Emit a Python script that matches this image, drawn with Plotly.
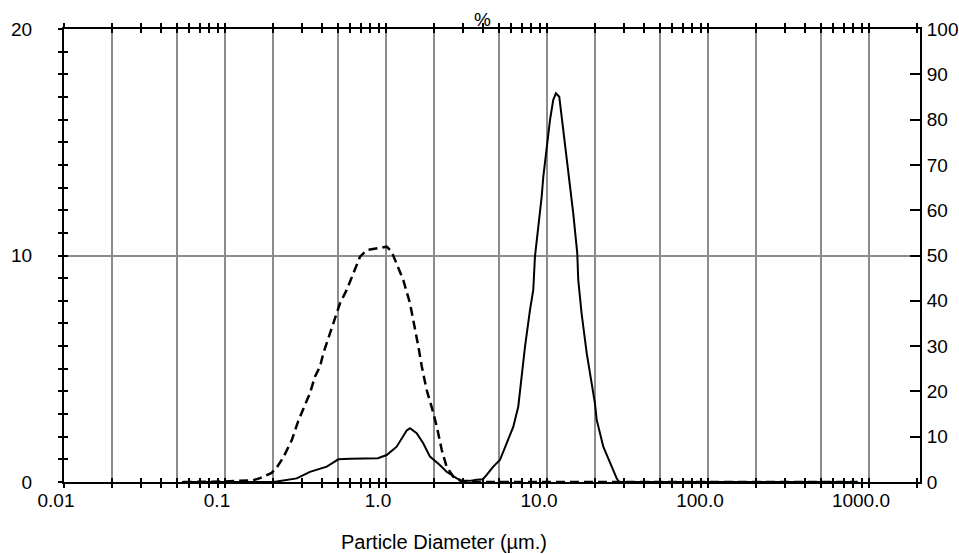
import plotly.graph_objects as go

# ---- data ----
solid_x = [0.054, 0.1, 0.2, 0.279, 0.337, 0.429, 0.506, 0.6, 0.75, 0.891, 1.01, 1.165, 1.345, 1.41,
           1.55, 1.70, 1.876, 2.16, 2.38, 2.75, 3.0, 3.3, 3.66, 4.0, 4.22, 4.64, 5.1, 5.62, 6.18, 6.63,
           6.97, 7.30, 7.84, 8.22, 8.42, 8.83, 9.27, 9.49, 9.96, 10.44, 10.94, 11.37, 11.92, 12.62,
           13.56, 14.56, 15.42, 15.64, 16.4, 17.66, 19.86, 20.37, 22.38, 24.62, 26.44, 27.1, 28.0,
           50.0, 100.0, 500.0, 850.0]
solid_y = [0, 0, 0, 0.16, 0.45, 0.68, 1.0, 1.03, 1.03, 1.05, 1.19, 1.56, 2.28, 2.37,
           2.15, 1.72, 1.12, 0.75, 0.45, 0.16, 0.05, 0.05, 0.1, 0.12, 0.31, 0.68, 0.97, 1.71, 2.44, 3.32,
           4.80, 5.97, 7.59, 8.48, 9.95, 11.13, 12.6, 13.48, 14.8, 15.98, 16.87, 17.16, 17.01, 15.54,
           13.92, 11.86, 10.1, 8.92, 7.45, 5.68, 3.47, 2.74, 1.56, 0.83, 0.31, 0.16, 0,
           0, 0, 0, 0]

dash_x = [0.055, 0.1, 0.15, 0.165, 0.195, 0.21, 0.23, 0.26, 0.285, 0.314, 0.337, 0.362, 0.389, 0.408,
          0.449, 0.482, 0.518, 0.570, 0.627, 0.690, 0.759, 0.875, 1.01, 1.084, 1.165, 1.28, 1.41,
          1.48, 1.59, 1.67, 1.79, 1.92, 2.07, 2.22, 2.38, 2.62, 3.0, 5.0, 10.0, 50.0, 100.0, 500.0, 850.0]
dash_y = [0, 0.02, 0.08, 0.17, 0.4, 0.65, 1.08, 1.85, 2.69, 3.4, 3.92, 4.65, 5.09, 5.68,
          6.56, 7.15, 7.89, 8.48, 9.21, 9.95, 10.24, 10.32, 10.39, 10.17, 9.65, 8.92, 7.89,
          7.15, 5.97, 5.09, 4.06, 3.32, 2.44, 1.41, 0.68, 0.23, 0, 0, 0, 0, 0, 0, 0]

x_decades = [0.01, 0.1, 1, 10, 100, 1000]
x_decade_labels = ["0.01", "0.1", "1.0", "10.0", "100.0", "1000.0"]
x_grid = [0.02, 0.05, 0.1, 0.2, 0.5, 1, 2, 5, 10, 20, 50, 100, 200, 500, 1000]
y_left_labels = {0: "0", 10: "10", 20: "20"}
y_right_ticks = [0, 10, 20, 30, 40, 50, 60, 70, 80, 90, 100]

# ---- derived tick arrays ----
X_MAX = 2075
x_minor = [m * d for d in x_decades for m in range(1, 10) if m * d <= X_MAX]
x_text = [x_decade_labels[x_decades.index(v)] if v in x_decades else "" for v in x_minor]
y_left_vals = list(range(0, 21))
y_left_text = [y_left_labels.get(v, "") for v in y_left_vals]

FONT = "Liberation Sans, Arial, sans-serif"
FS = 19
xr = [-2, 3.317]

fig = go.Figure()
# empty helper traces so that every overlaying axis is drawn
for xa, ya in [("x2", "y"), ("x3", "y"), ("x", "y3"), ("x", "y4"), ("x", "y2")]:
    fig.add_trace(go.Scatter(x=[], y=[], xaxis=xa, yaxis=ya, mode="lines",
                             showlegend=False, hoverinfo="skip"))
fig.add_trace(go.Scatter(x=solid_x, y=solid_y, mode="lines",
                         line=dict(color="black", width=2), showlegend=False))
fig.add_trace(go.Scatter(x=dash_x, y=dash_y, mode="lines",
                         line=dict(color="black", width=2.5, dash="9px,5px"), showlegend=False))

common_x = dict(type="log", range=xr, zeroline=False, automargin=False)
common_y = dict(range=[0, 20], zeroline=False, automargin=False)

fig.update_layout(
    width=959, height=554,
    margin=dict(l=64, r=39, t=29, b=72),
    plot_bgcolor="white", paper_bgcolor="white",
    font=dict(family=FONT, size=FS, color="black"),
    xaxis=dict(**common_x, tickvals=x_minor, ticktext=x_text, ticks="outside", ticklen=4,
               tickwidth=1.5, tickcolor="black", showline=True, linewidth=2, linecolor="black",
               mirror="ticks", showgrid=False, tickfont=dict(size=FS),
               ticklabelshift=-8, ticklabelstandoff=-4),
    xaxis2=dict(**common_x, overlaying="x", anchor="y", side="bottom", tickvals=x_minor,
                ticks="inside", ticklen=4, tickwidth=1.5, tickcolor="black", showticklabels=False,
                showline=True, linewidth=2, linecolor="black", mirror="ticks", showgrid=False),
    xaxis3=dict(**common_x, overlaying="x", anchor="y", tickvals=x_grid, ticks="",
                showticklabels=False, showline=False, showgrid=True, gridcolor="#8c8c8c",
                gridwidth=1.5),
    yaxis=dict(**common_y, tickvals=y_left_vals, ticktext=y_left_text, ticks="outside", ticklen=4,
               tickwidth=1.5, tickcolor="black", showline=True, linewidth=2, linecolor="black",
               showgrid=False, ticklabelstandoff=22, tickfont=dict(size=FS)),
    yaxis3=dict(**common_y, overlaying="y", anchor="x", tickvals=y_left_vals[1:-1], ticks="inside",
                ticklen=4, tickwidth=1.5, tickcolor="black", showticklabels=False, showgrid=False,
                showline=False),
    yaxis4=dict(**common_y, overlaying="y", anchor="x", tickvals=[10], ticks="",
                showticklabels=False, showgrid=True, gridcolor="#8c8c8c", gridwidth=1.5,
                showline=False),
    yaxis2=dict(range=[0, 100], overlaying="y", anchor="x", side="right", tickvals=y_right_ticks,
                ticks="inside", ticklen=10, tickwidth=1.5, tickcolor="black", showline=True,
                linewidth=2, linecolor="black", showgrid=False, zeroline=False, automargin=False,
                ticklabelstandoff=1, tickfont=dict(size=FS)),
    annotations=[
        dict(text="%", xref="paper", yref="paper", x=(482 - 64) / 856, y=1 + (29 - 20) / 453,
             xanchor="center", yanchor="middle", showarrow=False, font=dict(size=FS)),
        dict(text="Particle Diameter (µm.)", xref="paper", yref="paper", x=(444 - 64) / 856,
             y=-(542 - 482) / 453, xanchor="center", yanchor="middle", showarrow=False,
             font=dict(size=20)),
    ],
)

fig.write_html("out.html", config={"displayModeBar": False},
               post_script="document.body.style.margin='0';document.body.style.overflow='hidden';")
